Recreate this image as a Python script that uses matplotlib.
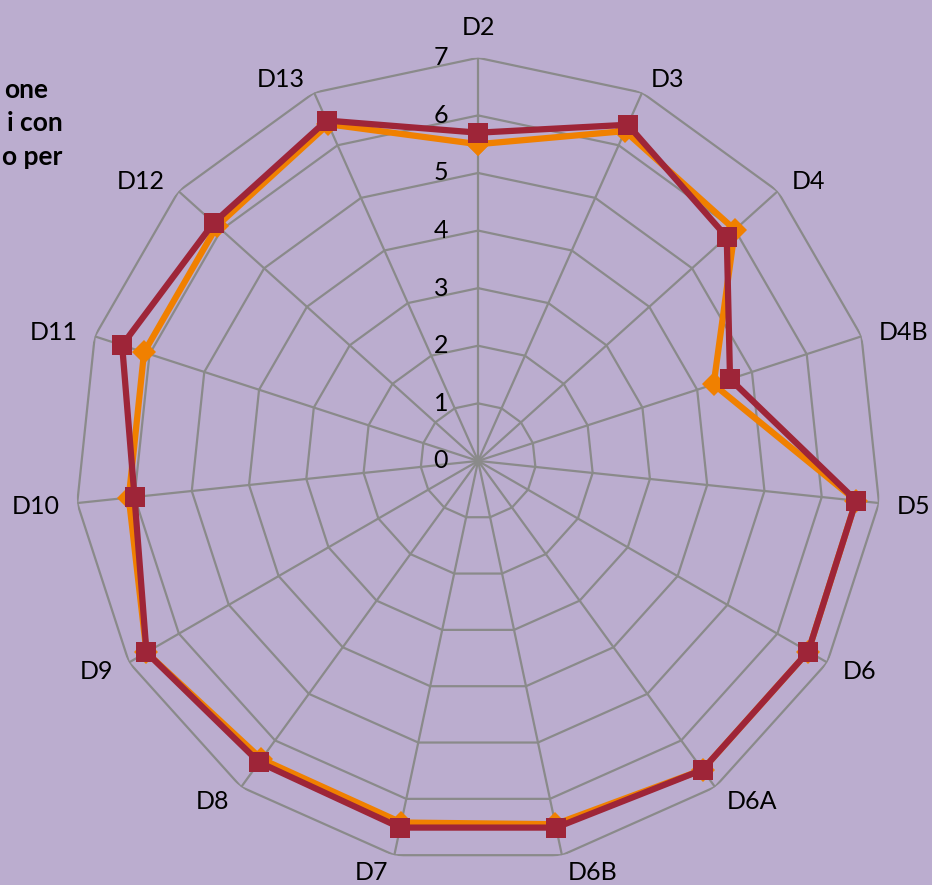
import numpy as np
import matplotlib.pyplot as plt
from matplotlib.transforms import offset_copy

categories = ['D2', 'D3', 'D4', 'D4B', 'D5', 'D6', 'D6A', 'D6B',
              'D7', 'D8', 'D9', 'D10', 'D11', 'D12', 'D13']
orange_vals = [5.5, 6.27, 6.0, 4.3, 6.6, 6.62, 6.63, 6.45,
               6.42, 6.4, 6.65, 6.1, 6.1, 6.1, 6.4]
red_vals = [5.7, 6.39, 5.81, 4.6, 6.6, 6.62, 6.63, 6.51,
            6.51, 6.47, 6.65, 6.0, 6.5, 6.18, 6.47]
rings = [0, 1, 2, 3, 4, 5, 6, 7]

bg = '#bbadcf'
grid_col = '#8a8a8a'
red = '#9e2538'
orange = '#f08000'

plt.rcParams['font.family'] = ['Lato', 'DejaVu Sans']

fig = plt.figure(figsize=(9.32, 8.85), dpi=100, facecolor=bg)
ax = fig.add_axes([0.0805, 0.0237, 0.865, 0.911], projection='polar')
ax.set_facecolor(bg)
ax.set_theta_zero_location('N')
ax.set_theta_direction(-1)
ax.set_ylim(0, 7)
ax.grid(False)
ax.spines['polar'].set_visible(False)
ax.set_xticks([])
ax.set_yticks([])

n = len(categories)
theta = np.arange(n) * 2 * np.pi / n
theta_closed = np.append(theta, theta[0])
rmax = rings[-1]

# polygon web
for r in rings[1:]:
    ax.plot(theta_closed, [r] * (n + 1), color=grid_col, lw=1.6, zorder=1)
for t in theta:
    ax.plot([t, t], [0, rmax], color=grid_col, lw=1.6, zorder=1)

# radial scale labels beside the top spoke
tr = offset_copy(ax.transData, fig=fig, x=-30, y=0, units='dots')
for r in rings:
    ax.text(0, r, str(r), transform=tr, ha='right', va='center',
            fontsize=18, color='black')

# category labels, anchored just outside each outer vertex
cap_half = 9
for t, lab in zip(theta, categories):
    s, c = np.sin(t), np.cos(t)
    if abs(s) < 0.05:
        ha, dx, dy = 'center', 0, 23
    else:
        ha = 'left' if s > 0 else 'right'
        dx = np.sign(s) * (3 + 15 * abs(s))
        dy = 16 * c - cap_half
    lt = offset_copy(ax.transData, fig=fig, x=dx, y=dy, units='dots')
    ax.text(t, rmax, lab, transform=lt, ha=ha, va='baseline',
            fontsize=18, color='black')

ax.plot(theta_closed, orange_vals + orange_vals[:1], color=orange, lw=4.5,
        marker='D', markersize=12, markeredgewidth=0, zorder=3, clip_on=False)
ax.plot(theta_closed, red_vals + red_vals[:1], color=red, lw=4.5,
        marker='s', markersize=14, markeredgewidth=0, zorder=4, clip_on=False)

# title fragments at the left edge
title_lines = [('one', 48, 90), ('i con', 63, 123), ('o per', 62, 157)]
for txt, x, y in title_lines:
    fig.text(x / 932, 1 - y / 885, txt, ha='right', va='center',
             fontsize=19, fontweight='bold', color='black')

fig.savefig('out.png', dpi=100, facecolor=bg)
